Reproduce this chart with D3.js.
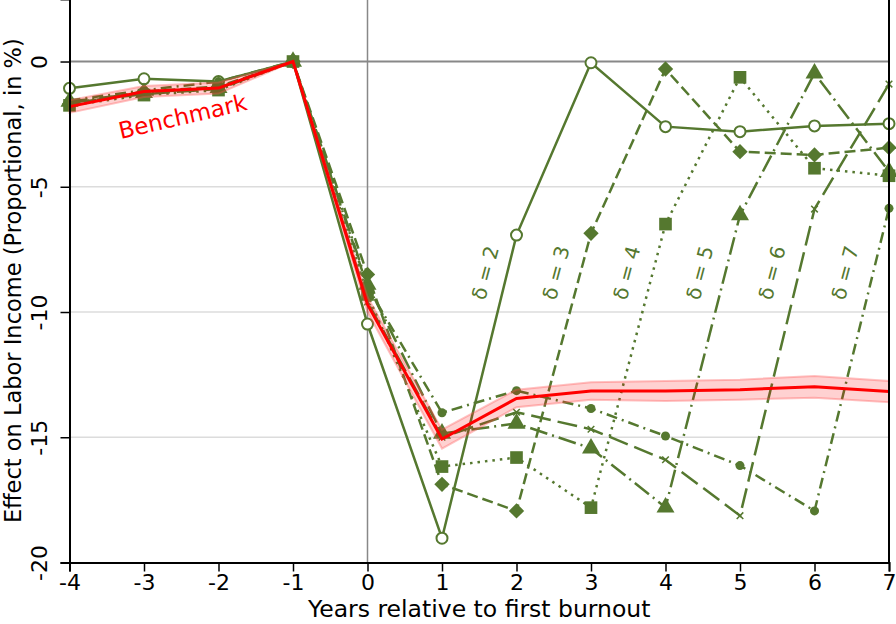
<!DOCTYPE html>
<html><head><meta charset="utf-8">
<script src="https://cdn.jsdelivr.net/npm/d3@7"></script>
<style>body{margin:0;background:#fff}svg{display:block;font-family:"DejaVu Sans",sans-serif}</style>
</head><body><svg id="c" width="896" height="624"></svg>
<script>
const years = [-4,-3,-2,-1,0,1,2,3,4,5,6,7];
const yTicks = [0,-5,-10,-15,-20];
const xTicks = [-4,-3,-2,-1,0,1,2,3,4,5,6,7];
const benchmark = [-1.8,-1.2,-1.06,0,-9.7,-15.07,-13.45,-13.15,-13.15,-13.1,-12.98,-13.17];
const benchLow  = [-2.05,-1.42,-1.28,0,-10.0,-15.45,-13.8,-13.5,-13.55,-13.5,-13.42,-13.6];
const benchHigh = [-1.55,-0.98,-0.84,0,-9.4,-14.7,-13.1,-12.8,-12.75,-12.7,-12.55,-12.75];
const delta2 = [-1.07,-0.69,-0.8,0,-10.48,-19.03,-6.93,-0.05,-2.6,-2.8,-2.57,-2.48];
const delta3 = [-1.7,-1.2,-1.0,0,-8.5,-16.88,-17.94,-6.86,-0.3,-3.6,-3.73,-3.44];
const delta4 = [-1.75,-1.34,-1.14,0,-9.3,-16.17,-15.81,-17.81,-6.49,-0.63,-4.26,-4.56];
const delta5 = [-1.6,-1.25,-1.05,0,-8.9,-14.85,-14.45,-15.44,-17.8,-6.13,-0.47,-4.4];
const delta6 = [-1.65,-1.3,-1.1,0,-9.6,-15.0,-14.0,-14.68,-15.9,-18.13,-5.89,-0.9];
const delta7 = [-1.55,-1.15,-0.8,0,-9.0,-14.02,-13.14,-13.85,-14.95,-16.13,-17.94,-5.86];
const deltaLabels = ["δ = 2","δ = 3","δ = 4","δ = 5","δ = 6","δ = 7"];
const labelX = [1.6,2.55,3.5,4.48,5.45,6.43];

const green = "#55782f";
const svg = d3.select("#c");
const L = 69.5, R = 889, T = -1.1, B = 562.5;
const x = d3.scaleLinear().domain([-4,7]).range([L,R]);
const y = d3.scaleLinear().domain([-20,2.5]).range([B,T]);

// grid
svg.append("g").selectAll("line").data([-5,-10,-15]).join("line")
  .attr("x1",L).attr("x2",R).attr("y1",d=>y(d)).attr("y2",d=>y(d))
  .attr("stroke","#dcdcdc").attr("stroke-width",1.5);
svg.append("line").attr("x1",L).attr("x2",R).attr("y1",y(0)).attr("y2",y(0))
  .attr("stroke","#888").attr("stroke-width",2);
svg.append("line").attr("x1",x(0)).attr("x2",x(0)).attr("y1",T).attr("y2",B)
  .attr("stroke","#888").attr("stroke-width",1.5);

const line = d3.line().x((d,i)=>x(years[i])).y(d=>y(d));
const series = [
  {v:delta2, dash:null, m:"ocircle"},
  {v:delta3, dash:"11,5", m:"diamond"},
  {v:delta4, dash:"2.5,5", m:"square"},
  {v:delta5, dash:"18,5,2,5", m:"triangle"},
  {v:delta6, dash:"20,7", m:"x"},
  {v:delta7, dash:"11,5,2,5", m:"dot"}
];
const sym = {
  diamond: d3.symbol().type(d3.symbolDiamond2).size(150),
  square: d3.symbol().type(d3.symbolSquare).size(160),
  triangle: d3.symbol().type(d3.symbolTriangle).size(140),
  x: d3.symbol().type(d3.symbolX).size(30)
};
const gS = svg.append("g");
series.forEach(s=>{
  gS.append("path").attr("d",line(s.v)).attr("fill","none").attr("stroke",green)
    .attr("stroke-width",2.5).attr("stroke-dasharray",s.dash);
  const pts = gS.append("g").selectAll("g").data(s.v).join("g")
    .attr("transform",(d,i)=>`translate(${x(years[i])},${y(d)})`);
  if (s.m==="ocircle") pts.append("circle").attr("r",5.5).attr("fill","#fff").attr("stroke",green).attr("stroke-width",2);
  else if (s.m==="dot") pts.append("circle").attr("r",4.5).attr("fill",green);
  else if (s.m==="x") pts.append("path").attr("d",sym.x()).attr("fill","none").attr("stroke",green).attr("stroke-width",1.5);
  else pts.append("path").attr("d",sym[s.m]()).attr("fill",green);
});

// benchmark band and line
const area = d3.area().x((d,i)=>x(years[i])).y0((d,i)=>y(benchLow[i])).y1((d,i)=>y(benchHigh[i]));
svg.append("path").attr("d",area(benchmark)).attr("fill","rgba(255,0,0,0.18)")
  .attr("stroke","rgba(255,80,80,0.35)").attr("stroke-width",2);
svg.append("path").attr("d",line(benchmark)).attr("fill","none").attr("stroke","#ff0000").attr("stroke-width",3);

svg.append("text").attr("transform","translate(183,118) rotate(-13)")
  .attr("text-anchor","middle").attr("dominant-baseline","middle")
  .attr("fill","#ff0000").attr("font-size",23).text("Benchmark");

svg.append("g").selectAll("text").data(deltaLabels).join("text")
  .attr("transform",(d,i)=>`translate(${x(labelX[i])},${y(-8.45)}) rotate(-75)`)
  .attr("text-anchor","middle").attr("dominant-baseline","middle")
  .attr("fill",green).attr("font-size",20).text(d=>d);

// axes
const fmt = d => String(d);
const ax = svg.append("g").attr("transform",`translate(0,${B})`)
  .call(d3.axisBottom(x).tickValues(xTicks).tickSize(9).tickPadding(3).tickFormat(fmt));
ax.select(".domain").attr("stroke","#000").attr("stroke-width",2);
ax.selectAll(".tick line").attr("stroke","#000").attr("stroke-width",1.5);
ax.selectAll(".tick text").attr("font-size",22).attr("fill","#000").attr("font-family","DejaVu Sans");

const ay = svg.append("g").attr("transform",`translate(${L},0)`)
  .call(d3.axisLeft(y).tickValues(yTicks).tickSize(9).tickFormat(fmt));
ay.select(".domain").attr("stroke","#000").attr("stroke-width",2);
ay.selectAll(".tick line").attr("stroke","#000").attr("stroke-width",1.5);
ay.selectAll(".tick text").attr("font-size",22).attr("fill","#000").attr("font-family","DejaVu Sans")
  .attr("x",null).attr("dy",null).attr("text-anchor","middle")
  .attr("transform","translate(-29,0) rotate(-90)").attr("dominant-baseline","middle");

svg.append("line").attr("x1",R).attr("x2",R).attr("y1",T).attr("y2",B).attr("stroke","#000").attr("stroke-width",2);

svg.append("text").attr("x",(L+R)/2).attr("y",610).attr("text-anchor","middle")
  .attr("dominant-baseline","middle").attr("font-size",23.5).text("Years relative to first burnout");
svg.append("text").attr("transform",`translate(14,${(T+B)/2}) rotate(-90)`).attr("text-anchor","middle")
  .attr("dominant-baseline","middle").attr("font-size",22.5).text("Effect on Labor Income (Proportional, in %)");
</script></body></html>
